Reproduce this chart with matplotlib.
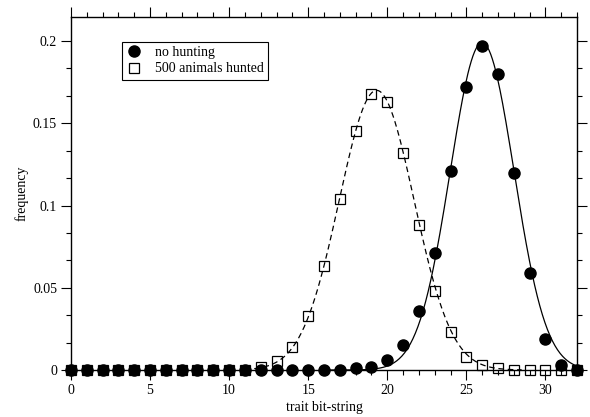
import numpy as np
import matplotlib
matplotlib.use("Agg")
import matplotlib.pyplot as plt
from matplotlib.ticker import MultipleLocator, AutoMinorLocator

plt.rcParams['font.family'] = ['Liberation Serif', 'DejaVu Serif']
plt.rcParams['font.size'] = 10

# trait value (bit-string count)
bits = np.arange(0, 33)

# frequency without hunting (filled circles)
freq_no_hunt = [0, 0, 0, 0, 0, 0, 0, 0, 0, 0, 0, 0, 0, 0, 0, 0, 0, 0,
                0.001, 0.002, 0.006, 0.015, 0.036, 0.071, 0.121, 0.172,
                0.197, 0.180, 0.120, 0.059, 0.019, 0.003, 0.0]

# frequency with 500 animals hunted (open squares)
freq_hunted = [0, 0, 0, 0, 0, 0, 0, 0, 0, 0, 0, 0,
               0.002, 0.0055, 0.014, 0.033, 0.063, 0.104, 0.145, 0.168,
               0.163, 0.132, 0.088, 0.048, 0.023, 0.008, 0.003, 0.001,
               0, 0, 0, 0, 0]

# gaussian fit parameters (amplitude, centre, width)
fit_no_hunt = (0.199, 26.0, 2.02)
fit_hunted = (0.170, 19.33, 2.37)


def gauss(x, a, mu, sig):
    return a * np.exp(-(x - mu) ** 2 / (2 * sig ** 2))


fig = plt.figure(figsize=(5.9, 4.17), dpi=100)
ax = fig.add_axes([0.1203, 0.1127, 0.8577, 0.8465])

x1 = np.linspace(16, 32, 300)
ax.plot(x1, gauss(x1, *fit_no_hunt), color='black', lw=0.9, zorder=2)
x2 = np.linspace(11, 28.5, 300)
ax.plot(x2, gauss(x2, *fit_hunted), color='black', lw=0.9,
        dashes=(4.5, 3), zorder=2)

ax.plot(bits, freq_no_hunt, 'o', color='black', ms=8, ls='none',
        clip_on=False, zorder=4, label='no hunting')
ax.plot(bits, freq_hunted, 's', mfc='none', mec='black', mew=0.9, ms=6.5,
        ls='none', clip_on=False, zorder=5, label='500 animals hunted')

ax.set_xlim(0, 32)
ax.set_ylim(0, 0.2146)
ax.xaxis.set_major_locator(MultipleLocator(5))
ax.xaxis.set_minor_locator(MultipleLocator(1))
ax.yaxis.set_major_locator(MultipleLocator(0.05))
ax.yaxis.set_minor_locator(AutoMinorLocator(3))
ax.yaxis.set_major_formatter(plt.FuncFormatter(lambda v, p: '%g' % round(v, 3)))

ax.tick_params(which='both', direction='out', top=True, right=True,
               width=0.8, labelsize=10, pad=3)
ax.tick_params(which='major', length=7)
ax.tick_params(which='minor', length=3.5)
for s in ax.spines.values():
    s.set_linewidth(1.0)

ax.set_xlabel('trait bit-string', fontsize=10, labelpad=3)
ax.set_ylabel('frequency', fontsize=10, labelpad=3)

leg = ax.legend(loc='upper left', bbox_to_anchor=(0.1, 0.93), frameon=True,
                fancybox=False, edgecolor='black', framealpha=1,
                fontsize=10, handlelength=1.2, handletextpad=0.9,
                borderpad=0.3, labelspacing=0.25, borderaxespad=0)
leg.get_frame().set_linewidth(0.8)

plt.savefig('out.png', dpi=100)
